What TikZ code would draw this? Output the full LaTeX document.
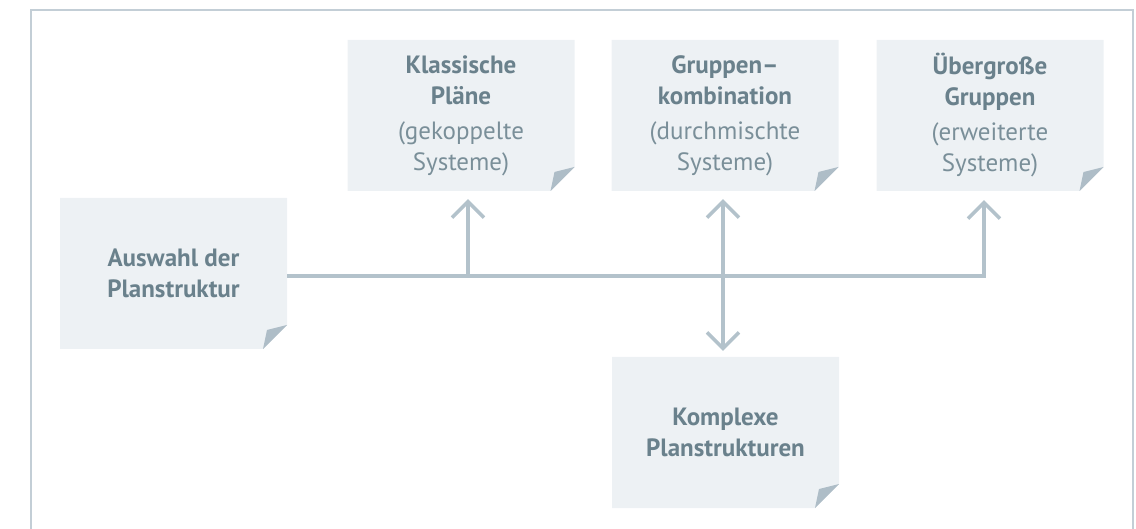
\documentclass[tikz,border=0pt]{standalone}
\usepackage{fontspec}
\setmainfont{PT Sans}
\usetikzlibrary{arrows.meta,calc}
\definecolor{linec}{HTML}{B3C2CB}
\definecolor{boxc}{HTML}{EDF1F4}
\definecolor{foldc}{HTML}{AEBDC7}
\definecolor{titlec}{HTML}{6A818C}
\definecolor{subc}{HTML}{7A8F99}
\definecolor{framec}{HTML}{C3CED6}
\newcommand{\subline}[1]{\textcolor{subc}{\mdseries #1}}
\tikzset{
  note/.style={minimum width=227pt, minimum height=151pt, inner sep=0pt,
    align=center, text=titlec, font=\fontsize{25}{31}\selectfont\bfseries,
    path picture={
      \path (path picture bounding box.north west) coordinate (pnw)
            (path picture bounding box.south east) coordinate (pse);
      \fill[boxc] (pnw) -| ($(pse)+(0,-24)$) -- ($(pse)+(-24,0)$) -| cycle;
      \fill[foldc] ($(pse)+(-24,0)$) -- ($(pse)+(0,-24)$) -- ($(pse)+(-20,-19)$) -- cycle;
    }},
  conn/.style={draw=linec, line width=3.5pt},
  arr/.tip={Straight Barb[length=16pt,width=32pt]}
}
\begin{document}
\begin{tikzpicture}[x=1pt,y=-1pt]
\useasboundingbox (0,0) rectangle (1136,529);
\draw[framec, line width=2.5pt] (31,529) -- (31,10) -- (1133,10) -- (1133,529);

\node[note] (kl) at (461,115.5) {Klassische\\Pläne\\[4pt]\subline{(gekoppelte}\\\subline{Systeme)}};
\node[note] (gr) at (725,115.5) {Gruppen–\\kombination\\[4pt]\subline{(durchmischte}\\\subline{Systeme)}};
\node[note] (ub) at (990,115.5) {Übergroße\\Gruppen\\[4pt]\subline{(erweiterte}\\\subline{Systeme)}};
\node[note] (au) at (173.5,273.5) {Auswahl der\\Planstruktur};
\node[note] (ko) at (725.5,432.5) {Komplexe\\Planstrukturen};

\coordinate (jk) at (468,276);
\coordinate (jg) at (723,276);
\coordinate (ju) at (984,276);

\draw[conn,-arr] (au.east |- ju) -- (ju) -- ($(ub.south -| ju)+(0,9)$);
\draw[conn,-arr] (jk) -- ($(kl.south -| jk)+(0,8)$);
\draw[conn,arr-arr] ($(gr.south -| jg)+(0,8)$) -- ($(ko.north -| jg)+(0,-6)$);
\end{tikzpicture}
\end{document}
